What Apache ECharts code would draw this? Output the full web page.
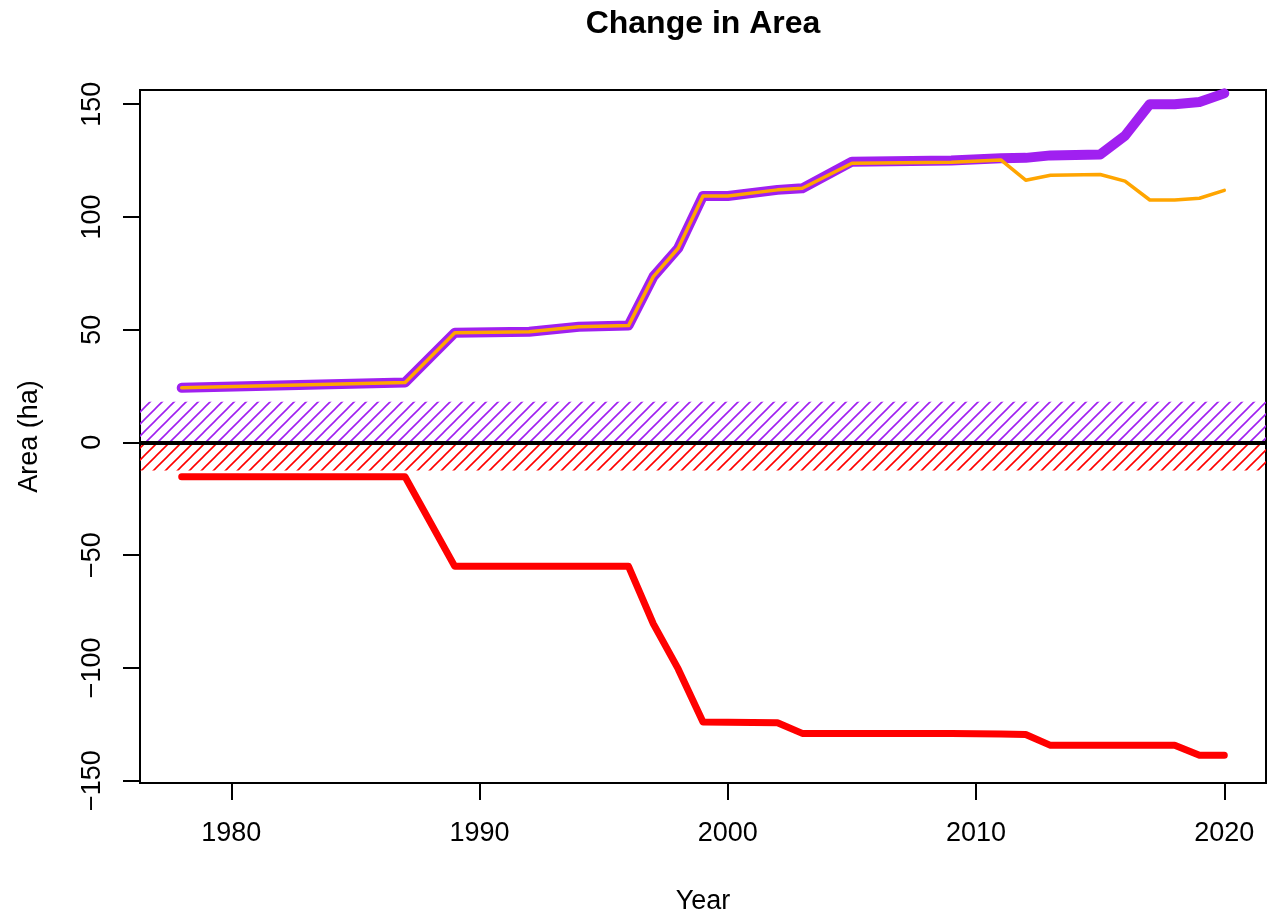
<!DOCTYPE html>
<html>
<head>
<meta charset="utf-8">
<title>Change in Area</title>
<script src="https://cdn.jsdelivr.net/npm/echarts@6/dist/echarts.min.js"></script>
<style>
html, body { margin: 0; padding: 0; background: #fff; }
#chart { width: 1270px; height: 916px; }
</style>
</head>
<body>
<div id="chart"></div>
<script>
// values
const years = [1978, 1987, 1989, 1992, 1994, 1996, 1997, 1998, 1999, 2000, 2002, 2003,
               2005, 2009, 2011, 2012, 2013, 2015, 2016, 2017, 2018, 2019, 2020]
const gainTotal = [24.2, 26.6, 48.6, 49.1, 51.3, 51.8, 73.5, 86.1, 109.3, 109.3, 112, 112.7,
                   124.5, 125, 126, 126.2, 127.3, 127.7, 136, 150, 150, 151, 154.8]
const gainNet = [24.2, 26.6, 48.6, 49.1, 51.3, 51.8, 73.5, 86.1, 109.3, 109.3, 112, 112.7,
                 123.8, 124.3, 125.3, 116.3, 118.5, 118.8, 115.9, 107.5, 107.5, 108.3, 111.8]
const loss = [-15.3, -15.3, -55, -55, -55, -55, -80.5, -100.5, -124, -124.2, -124.4, -129.1,
              -129.1, -129.1, -129.4, -129.6, -134.4, -134.4, -134.4, -134.4, -134.4, -138.8, -138.8]
const gainBand = [0, 18]
const lossBand = [-12.5, 0]
const xTicks = [1980, 1990, 2000, 2010, 2020]
const yTicks = [-150, -100, -50, 0, 50, 100, 150]

const FONT = '"Liberation Sans", Arial, sans-serif'
const PURPLE = '#A020F0'
const ORANGE = '#FFA500'
const RED = '#FF0000'

const pairs = vals => years.map((y, i) => [y, vals[i]])

// diagonal hatch pattern like R's density/angle shading
function hatch(color) {
  const c = document.createElement('canvas')
  c.width = 12
  c.height = 12
  const g = c.getContext('2d')
  g.strokeStyle = color
  g.lineWidth = 1.6
  g.beginPath()
  g.moveTo(-2, 14); g.lineTo(14, -2)
  g.moveTo(-8, 8); g.lineTo(8, -8)
  g.moveTo(4, 20); g.lineTo(20, 4)
  g.stroke()
  return { image: c, repeat: 'repeat' }
}

const chart = echarts.init(document.getElementById('chart'))

chart.setOption({
  animation: false,
  backgroundColor: '#fff',
  graphic: [{
    type: 'text',
    x: 703,
    y: 24,
    style: {
      text: 'Change in Area',
      font: 'bold 32px ' + FONT,
      fill: '#000',
      textAlign: 'center',
      textVerticalAlign: 'middle',
      align: 'center',
      verticalAlign: 'middle'
    }
  }],
  grid: {
    left: 140, right: 4, top: 90, bottom: 133,
    show: true, borderColor: '#000', borderWidth: 2,
    containLabel: false,
    outerBoundsMode: 'none'
  },
  xAxis: {
    type: 'value',
    min: 1976.32,
    max: 2021.68,
    name: 'Year',
    nameLocation: 'middle',
    nameGap: 105,
    nameTextStyle: { fontSize: 27, fontFamily: FONT, color: '#000' },
    axisLine: { show: true, onZero: false, lineStyle: { color: '#000', width: 2 } },
    axisTick: { show: true, length: 17, customValues: xTicks, lineStyle: { color: '#000', width: 2 } },
    axisLabel: {
      customValues: xTicks,
      fontSize: 27,
      fontFamily: FONT,
      color: '#000',
      margin: 37,
      formatter: v => String(v)
    },
    splitLine: { show: false }
  },
  yAxis: {
    type: 'value',
    min: -151.1,
    max: 156.3,
    name: 'Area (ha)',
    nameLocation: 'middle',
    nameRotate: 90,
    nameGap: 97,
    nameTextStyle: { fontSize: 27, fontFamily: FONT, color: '#000' },
    axisLine: { show: true, lineStyle: { color: '#000', width: 2 } },
    axisTick: { show: true, length: 17, customValues: yTicks, lineStyle: { color: '#000', width: 2 } },
    axisLabel: {
      customValues: yTicks,
      rotate: 90,
      fontSize: 27,
      fontFamily: FONT,
      color: '#000',
      margin: 34,
      formatter: v => String(v).replace('-', '\u2212')
    },
    splitLine: { show: false }
  },
  series: [
    {
      name: 'bands',
      type: 'line',
      data: [],
      silent: true,
      markArea: {
        silent: true,
        data: [
          [{ yAxis: gainBand[0], itemStyle: { color: hatch(PURPLE) } }, { yAxis: gainBand[1] }],
          [{ yAxis: lossBand[0], itemStyle: { color: hatch(RED) } }, { yAxis: lossBand[1] }]
        ]
      },
      markLine: {
        silent: true,
        symbol: 'none',
        label: { show: false },
        lineStyle: { color: '#000', width: 4, type: 'solid' },
        data: [{ yAxis: 0 }]
      }
    },
    {
      name: 'Loss',
      type: 'line',
      data: pairs(loss),
      showSymbol: false,
      lineStyle: { color: RED, width: 7, cap: 'round', join: 'round' }
    },
    {
      name: 'Gain',
      type: 'line',
      data: pairs(gainTotal),
      showSymbol: false,
      lineStyle: { color: PURPLE, width: 10, cap: 'round', join: 'round' }
    },
    {
      name: 'Net',
      type: 'line',
      data: pairs(gainNet),
      showSymbol: false,
      lineStyle: { color: ORANGE, width: 3.5, cap: 'round', join: 'round' }
    }
  ]
})
</script>
</body>
</html>
